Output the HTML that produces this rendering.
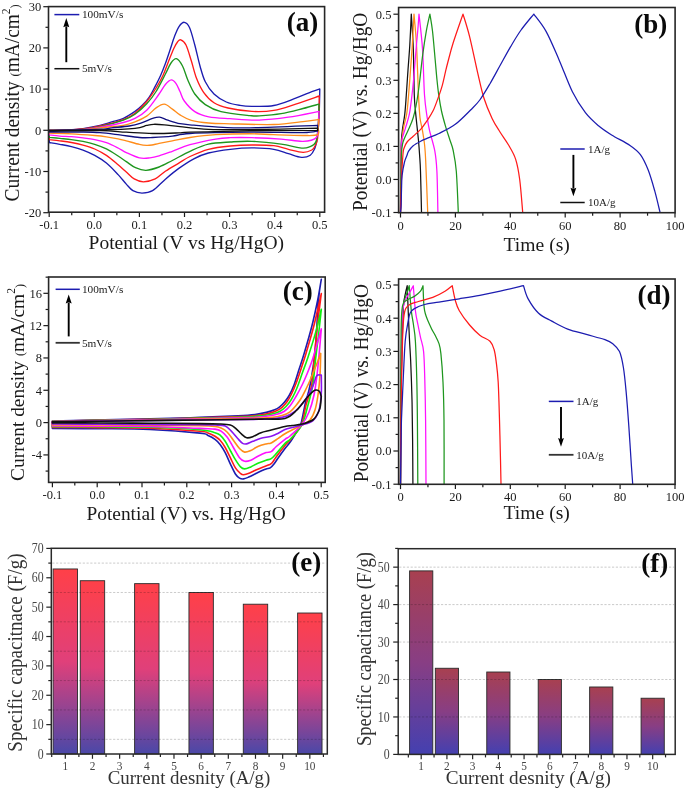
<!DOCTYPE html>
<html><head><meta charset="utf-8"><title>figure</title>
<style>
html,body{margin:0;padding:0;background:#fff;}
svg{display:block;}
text{font-family:"Liberation Serif", serif;}
</style></head>
<body>
<svg width="685" height="791" viewBox="0 0 685 791">
<rect x="0" y="0" width="685" height="791" fill="#fff"/>
<line x1="49.2" y1="212.2" x2="49.2" y2="217" stroke="#1a1a1a" stroke-width="1.2" />
<text x="49.2" y="228.8" font-size="12.5" text-anchor="middle" fill="#1a1a1a" font-weight="normal" >-0.1</text>
<line x1="71.75" y1="212.2" x2="71.75" y2="215.2" stroke="#1a1a1a" stroke-width="1.2" />
<line x1="94.3" y1="212.2" x2="94.3" y2="217" stroke="#1a1a1a" stroke-width="1.2" />
<text x="94.3" y="228.8" font-size="12.5" text-anchor="middle" fill="#1a1a1a" font-weight="normal" >0.0</text>
<line x1="116.85" y1="212.2" x2="116.85" y2="215.2" stroke="#1a1a1a" stroke-width="1.2" />
<line x1="139.4" y1="212.2" x2="139.4" y2="217" stroke="#1a1a1a" stroke-width="1.2" />
<text x="139.4" y="228.8" font-size="12.5" text-anchor="middle" fill="#1a1a1a" font-weight="normal" >0.1</text>
<line x1="161.95" y1="212.2" x2="161.95" y2="215.2" stroke="#1a1a1a" stroke-width="1.2" />
<line x1="184.5" y1="212.2" x2="184.5" y2="217" stroke="#1a1a1a" stroke-width="1.2" />
<text x="184.5" y="228.8" font-size="12.5" text-anchor="middle" fill="#1a1a1a" font-weight="normal" >0.2</text>
<line x1="207.05" y1="212.2" x2="207.05" y2="215.2" stroke="#1a1a1a" stroke-width="1.2" />
<line x1="229.6" y1="212.2" x2="229.6" y2="217" stroke="#1a1a1a" stroke-width="1.2" />
<text x="229.6" y="228.8" font-size="12.5" text-anchor="middle" fill="#1a1a1a" font-weight="normal" >0.3</text>
<line x1="252.15" y1="212.2" x2="252.15" y2="215.2" stroke="#1a1a1a" stroke-width="1.2" />
<line x1="274.7" y1="212.2" x2="274.7" y2="217" stroke="#1a1a1a" stroke-width="1.2" />
<text x="274.7" y="228.8" font-size="12.5" text-anchor="middle" fill="#1a1a1a" font-weight="normal" >0.4</text>
<line x1="297.25" y1="212.2" x2="297.25" y2="215.2" stroke="#1a1a1a" stroke-width="1.2" />
<line x1="319.8" y1="212.2" x2="319.8" y2="217" stroke="#1a1a1a" stroke-width="1.2" />
<text x="319.8" y="228.8" font-size="12.5" text-anchor="middle" fill="#1a1a1a" font-weight="normal" >0.5</text>
<line x1="48.5" y1="212.7" x2="43.3" y2="212.7" stroke="#1a1a1a" stroke-width="1.2" />
<text x="41.2" y="217" font-size="12.5" text-anchor="end" fill="#1a1a1a" font-weight="normal" >-20</text>
<line x1="48.5" y1="192.1" x2="45.5" y2="192.1" stroke="#1a1a1a" stroke-width="1.2" />
<line x1="48.5" y1="171.5" x2="43.3" y2="171.5" stroke="#1a1a1a" stroke-width="1.2" />
<text x="41.2" y="175.8" font-size="12.5" text-anchor="end" fill="#1a1a1a" font-weight="normal" >-10</text>
<line x1="48.5" y1="150.9" x2="45.5" y2="150.9" stroke="#1a1a1a" stroke-width="1.2" />
<line x1="48.5" y1="130.3" x2="43.3" y2="130.3" stroke="#1a1a1a" stroke-width="1.2" />
<text x="41.2" y="134.6" font-size="12.5" text-anchor="end" fill="#1a1a1a" font-weight="normal" >0</text>
<line x1="48.5" y1="109.7" x2="45.5" y2="109.7" stroke="#1a1a1a" stroke-width="1.2" />
<line x1="48.5" y1="89.1" x2="43.3" y2="89.1" stroke="#1a1a1a" stroke-width="1.2" />
<text x="41.2" y="93.4" font-size="12.5" text-anchor="end" fill="#1a1a1a" font-weight="normal" >10</text>
<line x1="48.5" y1="68.5" x2="45.5" y2="68.5" stroke="#1a1a1a" stroke-width="1.2" />
<line x1="48.5" y1="47.9" x2="43.3" y2="47.9" stroke="#1a1a1a" stroke-width="1.2" />
<text x="41.2" y="52.2" font-size="12.5" text-anchor="end" fill="#1a1a1a" font-weight="normal" >20</text>
<line x1="48.5" y1="27.3" x2="45.5" y2="27.3" stroke="#1a1a1a" stroke-width="1.2" />
<line x1="48.5" y1="6.7" x2="43.3" y2="6.7" stroke="#1a1a1a" stroke-width="1.2" />
<text x="41.2" y="11" font-size="12.5" text-anchor="end" fill="#1a1a1a" font-weight="normal" >30</text>
<text x="186.3" y="249.2" font-size="19.55" text-anchor="middle" fill="#1a1a1a" font-weight="normal" >Potential (V vs Hg/HgO)</text>
<text transform="translate(19,102.8) rotate(-90) scale(1,1.07)" x="0" y="0" font-size="19.4" text-anchor="middle" fill="#1a1a1a" >Current density <tspan font-size="12.5">(</tspan>mA/cm<tspan dy="-8.5" font-size="11.5">2</tspan><tspan dy="8.5" font-size="12.5">)</tspan></text>
<text x="302.4" y="30.75" font-size="27" text-anchor="middle" fill="#0a0a0a" font-weight="bold" >(a)</text>
<line x1="54.4" y1="14.6" x2="79.3" y2="14.6" stroke="#1c1cb0" stroke-width="1.5" />
<text x="81.9" y="18.4" font-size="11.3" text-anchor="start" fill="#222" font-weight="normal" >100mV/s</text>
<line x1="54.4" y1="68.7" x2="79.3" y2="68.7" stroke="#111111" stroke-width="1.5" />
<text x="81.9" y="72.4" font-size="11.3" text-anchor="start" fill="#222" font-weight="normal" >5mV/s</text>
<line x1="66.3" y1="62.2" x2="66.3" y2="26.3" stroke="#000" stroke-width="1.9" />
<path d="M66.3,18.1 L63.3,27.3 L66.3,26.01 L69.3,27.3 Z" fill="#000"/>
<path d="M49.3,130.5 C52,130.42 59.88,130.32 65.5,130 C71.12,129.68 77.25,129.37 83,128.6 C88.75,127.83 95.22,126.52 100,125.4 C104.78,124.28 107.8,123.07 111.7,121.9 C115.6,120.73 119.52,120.15 123.4,118.4 C127.28,116.65 131.9,113.53 135,111.4 C138.1,109.27 139.65,107.93 142,105.6 C144.35,103.27 146.95,100.52 149.1,97.4 C151.25,94.28 152.97,90.6 154.9,86.9 C156.83,83.2 158.95,79.1 160.7,75.2 C162.45,71.3 163.85,67.7 165.4,63.5 C166.95,59.3 168.48,54.5 170,50 C171.52,45.5 173,40.4 174.5,36.5 C176,32.6 177.37,28.97 179,26.6 C180.63,24.23 182.55,22.15 184.3,22.3 C186.05,22.45 187.75,23.72 189.5,27.5 C191.25,31.28 193.05,38.58 194.8,45 C196.55,51.42 198.25,59.87 200,66 C201.75,72.13 202.97,77.13 205.3,81.8 C207.63,86.47 210.5,90.63 214,94 C217.5,97.37 221.97,100.1 226.3,102 C230.63,103.9 235.73,104.68 240,105.4 C244.27,106.12 246.27,106.28 251.9,106.3 C257.53,106.32 266.5,106.85 273.8,105.5 C281.1,104.15 289.37,100.5 295.7,98.2 C302.03,95.9 307.78,93.23 311.8,91.7 C315.82,90.17 318.47,89.45 319.8,89 L319.8,89 C319.72,92.5 319.55,103.47 319.3,110 C319.05,116.53 318.77,122.87 318.3,128.2 C317.83,133.53 317.1,138.6 316.5,142 C315.9,145.4 315.73,146.4 314.7,148.6 C313.67,150.8 312.5,153.73 310.3,155.2 C308.1,156.67 305.15,157.65 301.5,157.4 C297.85,157.15 293.02,155.05 288.4,153.7 C283.78,152.35 279.88,150.27 273.8,149.3 C267.72,148.33 259.15,147.9 251.9,147.9 C244.65,147.9 237.55,148.45 230.3,149.3 C223.05,150.15 214.48,151.42 208.4,153 C202.32,154.58 198.73,156.23 193.8,158.8 C188.87,161.37 183.48,165.05 178.8,168.4 C174.12,171.75 170.07,175.18 165.7,178.9 C161.33,182.62 156.55,188.33 152.6,190.7 C148.65,193.07 145.28,193.1 142,193.1 C138.72,193.1 135.52,192.2 132.9,190.7 C130.28,189.2 128.77,186.78 126.3,184.1 C123.83,181.42 121.42,178.12 118.1,174.6 C114.78,171.08 110.3,166.2 106.4,163 C102.5,159.8 98.6,157.55 94.7,155.4 C90.8,153.25 86.88,151.57 83,150.1 C79.12,148.63 75.28,147.57 71.4,146.6 C67.52,145.63 63.38,144.98 59.7,144.3 C56.02,143.62 51.03,142.8 49.3,142.5 Z" stroke="#1c1cb0" stroke-width="1.35" fill="none" stroke-linejoin="round" stroke-linecap="round" />
<path d="M49.3,130.5 C52,130.45 59.88,130.45 65.5,130.2 C71.12,129.95 77.25,129.7 83,129 C88.75,128.3 93.27,127.57 100,126 C106.73,124.43 117.57,121.73 123.4,119.6 C129.23,117.47 131.12,116.22 135,113.2 C138.88,110.18 143.18,105.7 146.7,101.5 C150.22,97.3 153.37,92.38 156.1,88 C158.83,83.62 161.07,79.53 163.1,75.2 C165.13,70.87 166.52,66.45 168.3,62 C170.08,57.55 172.27,51.83 173.8,48.5 C175.33,45.17 176.33,43.45 177.5,42 C178.67,40.55 179.38,39.3 180.8,39.8 C182.22,40.3 184.25,41.5 186,45 C187.75,48.5 189.55,55.25 191.3,60.8 C193.05,66.35 194.45,73.05 196.5,78.3 C198.55,83.55 200.68,88.22 203.6,92.3 C206.52,96.38 209.93,100.18 214,102.8 C218.07,105.42 221.68,106.57 228,108 C234.32,109.43 244.27,111 251.9,111.4 C259.53,111.8 266.5,111.62 273.8,110.4 C281.1,109.18 288.12,106.5 295.7,104.1 C303.28,101.7 315.37,97.35 319.3,96 L319.3,96 C319.22,99.17 319.08,107.93 318.8,115 C318.52,122.07 318.23,133.23 317.6,138.4 C316.97,143.57 315.97,144.07 315,146 C314.03,147.93 313.8,148.95 311.8,150 C309.8,151.05 306.9,152.42 303,152.3 C299.1,152.18 293.27,150.4 288.4,149.3 C283.53,148.2 279.88,146.42 273.8,145.7 C267.72,144.98 259.15,144.95 251.9,145 C244.65,145.05 237.55,145.28 230.3,146 C223.05,146.72 215.12,147.55 208.4,149.3 C201.68,151.05 194.93,154.2 190,156.5 C185.07,158.8 182.85,160.68 178.8,163.1 C174.75,165.52 169.63,168.37 165.7,171 C161.77,173.63 158.92,177.1 155.2,178.9 C151.48,180.7 146.9,181.8 143.4,181.8 C139.9,181.8 137.05,180.53 134.2,178.9 C131.35,177.27 128.98,174.35 126.3,172 C123.62,169.65 121.42,167.57 118.1,164.8 C114.78,162.03 110.3,158.03 106.4,155.4 C102.5,152.77 98.6,150.72 94.7,149 C90.8,147.28 86.88,146.18 83,145.1 C79.12,144.02 75.28,143.22 71.4,142.5 C67.52,141.78 63.38,141.28 59.7,140.8 C56.02,140.32 51.03,139.8 49.3,139.6 Z" stroke="#ff1a1a" stroke-width="1.35" fill="none" stroke-linejoin="round" stroke-linecap="round" />
<path d="M49.3,130.5 C52,130.47 59.88,130.5 65.5,130.3 C71.12,130.1 77.25,129.92 83,129.3 C88.75,128.68 93.27,128.12 100,126.6 C106.73,125.08 117.57,122.25 123.4,120.2 C129.23,118.15 131.12,117.03 135,114.3 C138.88,111.57 143.18,107.6 146.7,103.8 C150.22,100 152.98,96.47 156.1,91.5 C159.22,86.53 162.92,78.75 165.4,74 C167.88,69.25 169.17,65.55 171,63 C172.83,60.45 174.48,58.2 176.4,58.7 C178.32,59.2 180.6,62.45 182.5,66 C184.4,69.55 185.75,75.33 187.8,80 C189.85,84.67 191.88,89.9 194.8,94 C197.72,98.1 200.93,101.67 205.3,104.6 C209.67,107.53 213.55,109.77 221,111.6 C228.45,113.43 243.63,114.9 250,115.6 C256.37,116.3 254.02,116.13 259.2,115.8 C264.38,115.47 273.8,114.82 281.1,113.6 C288.4,112.38 296.68,110.08 303,108.5 C309.32,106.92 316.33,104.83 319,104.1 L319,104.1 C318.92,106.75 318.98,113.8 318.5,120 C318.02,126.2 317.72,136.77 316.1,141.3 C314.48,145.83 311.48,146.1 308.8,147.2 C306.12,148.3 304.62,148.4 300,147.9 C295.38,147.4 289.12,145.3 281.1,144.2 C273.08,143.1 260.37,141.67 251.9,141.3 C243.43,140.93 237.55,141.52 230.3,142 C223.05,142.48 215.12,142.65 208.4,144.2 C201.68,145.75 196.02,148.58 190,151.3 C183.98,154.02 177.45,157.88 172.3,160.5 C167.15,163.12 163.48,165.37 159.1,167 C154.72,168.63 149.93,170.18 146,170.3 C142.07,170.42 138.78,169.15 135.5,167.7 C132.22,166.25 129.2,163.55 126.3,161.6 C123.4,159.65 121.42,158.12 118.1,156 C114.78,153.88 110.3,150.85 106.4,148.9 C102.5,146.95 98.6,145.55 94.7,144.3 C90.8,143.05 86.88,142.18 83,141.4 C79.12,140.62 75.28,140.1 71.4,139.6 C67.52,139.1 63.38,138.78 59.7,138.4 C56.02,138.02 51.03,137.48 49.3,137.3 Z" stroke="#1e961e" stroke-width="1.35" fill="none" stroke-linejoin="round" stroke-linecap="round" />
<path d="M49.3,130.5 C52,130.48 59.88,130.55 65.5,130.4 C71.12,130.25 77.25,130.13 83,129.6 C88.75,129.07 93.27,128.38 100,127.2 C106.73,126.02 117.57,123.97 123.4,122.5 C129.23,121.03 131.12,120.45 135,118.4 C138.88,116.35 142.8,114.1 146.7,110.2 C150.6,106.3 155.28,99.28 158.4,95 C161.52,90.72 163.25,87.02 165.4,84.5 C167.55,81.98 169.55,80.08 171.3,79.9 C173.05,79.72 174.45,81.47 175.9,83.4 C177.35,85.33 178.6,88.57 180,91.5 C181.4,94.43 181.83,97.65 184.3,101 C186.77,104.35 190.72,108.97 194.8,111.6 C198.88,114.23 202.93,115.62 208.8,116.8 C214.67,117.98 221.6,118.15 230,118.7 C238.4,119.25 249.47,120.35 259.2,120.1 C268.93,119.85 278.43,118.65 288.4,117.2 C298.37,115.75 313.9,112.37 319,111.4 L319,111.4 C318.88,113.67 318.78,120.62 318.3,125 C317.82,129.38 318.65,134.98 316.1,137.7 C313.55,140.42 308.83,141.07 303,141.3 C297.17,141.53 289.62,139.7 281.1,139.1 C272.58,138.5 260.42,137.93 251.9,137.7 C243.38,137.47 236.03,137.47 230,137.7 C223.97,137.93 222.37,137.93 215.7,139.1 C209.03,140.27 197.23,142.67 190,144.7 C182.77,146.73 177.45,149.43 172.3,151.3 C167.15,153.17 162.83,154.8 159.1,155.9 C155.37,157 153.18,157.57 149.9,157.9 C146.62,158.23 143.33,158.78 139.4,157.9 C135.47,157.02 129.85,154.25 126.3,152.6 C122.75,150.95 121.42,149.65 118.1,148 C114.78,146.35 110.3,144.1 106.4,142.7 C102.5,141.3 98.6,140.4 94.7,139.6 C90.8,138.8 86.88,138.38 83,137.9 C79.12,137.42 75.28,137 71.4,136.7 C67.52,136.4 63.38,136.4 59.7,136.1 C56.02,135.8 51.03,135.1 49.3,134.9 Z" stroke="#ff10ff" stroke-width="1.35" fill="none" stroke-linejoin="round" stroke-linecap="round" />
<path d="M49.3,130.5 C54.92,130.4 74.55,130.35 83,129.9 C91.45,129.45 93.27,128.55 100,127.8 C106.73,127.05 117.57,126.38 123.4,125.4 C129.23,124.42 131.12,123.45 135,121.9 C138.88,120.35 143.18,118.43 146.7,116.1 C150.22,113.77 153.17,109.88 156.1,107.9 C159.03,105.92 161.58,104 164.3,104.2 C167.02,104.4 169.78,107.32 172.4,109.1 C175.02,110.88 176.85,113.03 180,114.9 C183.15,116.77 186.5,118.95 191.3,120.3 C196.1,121.65 202.35,122.42 208.8,123 C215.25,123.58 219.17,123.55 230,123.8 C240.83,124.05 261.63,124.87 273.8,124.5 C285.97,124.13 295.47,122.45 303,121.6 C310.53,120.75 316.33,119.77 319,119.4 L319,119.4 C318.88,120.83 318.53,125.45 318.3,128 C318.07,130.55 320.15,133.45 317.6,134.7 C315.05,135.95 310.3,135.5 303,135.5 C295.7,135.5 282.63,135 273.8,134.7 C264.97,134.4 259.68,133.7 250,133.7 C240.32,133.7 225.7,134.07 215.7,134.7 C205.7,135.33 197.23,136.48 190,137.5 C182.77,138.52 177.45,139.82 172.3,140.8 C167.15,141.78 162.48,142.7 159.1,143.4 C155.72,144.1 154.08,144.67 152,145 C149.92,145.33 148.7,145.5 146.6,145.4 C144.5,145.3 142.78,145.17 139.4,144.4 C136.02,143.63 129.85,141.73 126.3,140.8 C122.75,139.87 121.42,139.47 118.1,138.8 C114.78,138.13 110.3,137.35 106.4,136.8 C102.5,136.25 100.53,136 94.7,135.5 C88.87,135 78.97,134.18 71.4,133.8 C63.83,133.42 52.98,133.3 49.3,133.2 Z" stroke="#ff8c1a" stroke-width="1.35" fill="none" stroke-linejoin="round" stroke-linecap="round" />
<path d="M49.3,130.5 C57.83,130.28 90.1,129.65 100.5,129.2 C110.9,128.75 106.92,128.33 111.7,127.8 C116.48,127.27 124.33,126.78 129.2,126 C134.07,125.22 137,124.37 140.9,123.1 C144.8,121.83 149.48,119.38 152.6,118.4 C155.72,117.42 157.07,116.9 159.6,117.2 C162.13,117.5 164.4,119.12 167.8,120.2 C171.2,121.28 175.67,122.87 180,123.7 C184.33,124.53 186.63,124.58 193.8,125.2 C200.97,125.82 213.63,126.97 223,127.4 C232.37,127.83 234.23,128.15 250,127.8 C265.77,127.45 306.33,125.72 317.6,125.3 L317.6,131 C315.17,131.27 314.27,132.4 303,132.6 C291.73,132.8 268.83,132.05 250,132.2 C231.17,132.35 202.95,132.83 190,133.5 C177.05,134.17 178.53,135.53 172.3,136.2 C166.07,136.87 158.08,137.28 152.6,137.5 C147.12,137.72 144.88,137.93 139.4,137.5 C133.92,137.07 126.27,135.72 119.7,134.9 C113.13,134.08 106.12,133.08 100,132.6 C93.88,132.12 91.45,132.1 83,132 C74.55,131.9 54.92,132 49.3,132 Z" stroke="#101080" stroke-width="1.35" fill="none" stroke-linejoin="round" stroke-linecap="round" />
<path d="M49.3,130.5 C57.83,130.42 86.22,130.37 100.5,130 C114.78,129.63 127.3,129.07 135,128.3 C142.7,127.53 143.58,126.07 146.7,125.4 C149.82,124.73 150.77,124.4 153.7,124.3 C156.63,124.2 159.92,124.42 164.3,124.8 C168.68,125.18 172.65,125.85 180,126.6 C187.35,127.35 196.73,128.8 208.4,129.3 C220.07,129.8 231.8,129.78 250,129.6 C268.2,129.42 306.33,128.43 317.6,128.2 L317.6,130.4 C306.33,130.47 271.27,130.5 250,130.8 C228.73,131.1 201.87,131.85 190,132.2 C178.13,132.55 185.03,132.68 178.8,132.9 C172.57,133.12 161.35,133.62 152.6,133.5 C143.85,133.38 135.07,132.68 126.3,132.2 C117.53,131.72 112.83,130.83 100,130.6 C87.17,130.37 57.75,130.77 49.3,130.8 Z" stroke="#111111" stroke-width="1.35" fill="none" stroke-linejoin="round" stroke-linecap="round" />
<rect x="48.5" y="6.6" width="276.1" height="205.6" fill="none" stroke="#262626" stroke-width="1.6"/>
<line x1="400.5" y1="212.7" x2="400.5" y2="217.5" stroke="#1a1a1a" stroke-width="1.2" />
<text x="400.5" y="229.6" font-size="12.5" text-anchor="middle" fill="#1a1a1a" font-weight="normal" >0</text>
<line x1="427.95" y1="212.7" x2="427.95" y2="215.7" stroke="#1a1a1a" stroke-width="1.2" />
<line x1="455.4" y1="212.7" x2="455.4" y2="217.5" stroke="#1a1a1a" stroke-width="1.2" />
<text x="455.4" y="229.6" font-size="12.5" text-anchor="middle" fill="#1a1a1a" font-weight="normal" >20</text>
<line x1="482.85" y1="212.7" x2="482.85" y2="215.7" stroke="#1a1a1a" stroke-width="1.2" />
<line x1="510.3" y1="212.7" x2="510.3" y2="217.5" stroke="#1a1a1a" stroke-width="1.2" />
<text x="510.3" y="229.6" font-size="12.5" text-anchor="middle" fill="#1a1a1a" font-weight="normal" >40</text>
<line x1="537.75" y1="212.7" x2="537.75" y2="215.7" stroke="#1a1a1a" stroke-width="1.2" />
<line x1="565.2" y1="212.7" x2="565.2" y2="217.5" stroke="#1a1a1a" stroke-width="1.2" />
<text x="565.2" y="229.6" font-size="12.5" text-anchor="middle" fill="#1a1a1a" font-weight="normal" >60</text>
<line x1="592.65" y1="212.7" x2="592.65" y2="215.7" stroke="#1a1a1a" stroke-width="1.2" />
<line x1="620.1" y1="212.7" x2="620.1" y2="217.5" stroke="#1a1a1a" stroke-width="1.2" />
<text x="620.1" y="229.6" font-size="12.5" text-anchor="middle" fill="#1a1a1a" font-weight="normal" >80</text>
<line x1="647.55" y1="212.7" x2="647.55" y2="215.7" stroke="#1a1a1a" stroke-width="1.2" />
<line x1="675" y1="212.7" x2="675" y2="217.5" stroke="#1a1a1a" stroke-width="1.2" />
<text x="675" y="229.6" font-size="12.5" text-anchor="middle" fill="#1a1a1a" font-weight="normal" >100</text>
<line x1="398.6" y1="212.5" x2="393.4" y2="212.5" stroke="#1a1a1a" stroke-width="1.2" />
<text x="391.4" y="216.8" font-size="12.5" text-anchor="end" fill="#1a1a1a" font-weight="normal" >-0.1</text>
<line x1="398.6" y1="195.97" x2="395.6" y2="195.97" stroke="#1a1a1a" stroke-width="1.2" />
<line x1="398.6" y1="179.45" x2="393.4" y2="179.45" stroke="#1a1a1a" stroke-width="1.2" />
<text x="391.4" y="183.75" font-size="12.5" text-anchor="end" fill="#1a1a1a" font-weight="normal" >0.0</text>
<line x1="398.6" y1="162.92" x2="395.6" y2="162.92" stroke="#1a1a1a" stroke-width="1.2" />
<line x1="398.6" y1="146.4" x2="393.4" y2="146.4" stroke="#1a1a1a" stroke-width="1.2" />
<text x="391.4" y="150.7" font-size="12.5" text-anchor="end" fill="#1a1a1a" font-weight="normal" >0.1</text>
<line x1="398.6" y1="129.88" x2="395.6" y2="129.88" stroke="#1a1a1a" stroke-width="1.2" />
<line x1="398.6" y1="113.35" x2="393.4" y2="113.35" stroke="#1a1a1a" stroke-width="1.2" />
<text x="391.4" y="117.65" font-size="12.5" text-anchor="end" fill="#1a1a1a" font-weight="normal" >0.2</text>
<line x1="398.6" y1="96.83" x2="395.6" y2="96.83" stroke="#1a1a1a" stroke-width="1.2" />
<line x1="398.6" y1="80.3" x2="393.4" y2="80.3" stroke="#1a1a1a" stroke-width="1.2" />
<text x="391.4" y="84.6" font-size="12.5" text-anchor="end" fill="#1a1a1a" font-weight="normal" >0.3</text>
<line x1="398.6" y1="63.77" x2="395.6" y2="63.77" stroke="#1a1a1a" stroke-width="1.2" />
<line x1="398.6" y1="47.25" x2="393.4" y2="47.25" stroke="#1a1a1a" stroke-width="1.2" />
<text x="391.4" y="51.55" font-size="12.5" text-anchor="end" fill="#1a1a1a" font-weight="normal" >0.4</text>
<line x1="398.6" y1="30.72" x2="395.6" y2="30.72" stroke="#1a1a1a" stroke-width="1.2" />
<line x1="398.6" y1="14.2" x2="393.4" y2="14.2" stroke="#1a1a1a" stroke-width="1.2" />
<text x="391.4" y="18.5" font-size="12.5" text-anchor="end" fill="#1a1a1a" font-weight="normal" >0.5</text>
<text x="536.7" y="250.7" font-size="19.6" text-anchor="middle" fill="#1a1a1a" font-weight="normal" >Time (s)</text>
<text transform="translate(367.4,111.8) rotate(-90) scale(1,1.07)" x="0" y="0" font-size="19.3" text-anchor="middle" fill="#1a1a1a" >Potential (V) vs. Hg/HgO</text>
<text x="650.7" y="33.45" font-size="27" text-anchor="middle" fill="#0a0a0a" font-weight="bold" >(b)</text>
<line x1="560.3" y1="149" x2="584.7" y2="149" stroke="#1c1cb0" stroke-width="1.5" />
<text x="588" y="152.6" font-size="11.0" text-anchor="start" fill="#222" font-weight="normal" >1A/g</text>
<line x1="560.3" y1="202.5" x2="584.7" y2="202.5" stroke="#111111" stroke-width="1.5" />
<text x="588" y="206.2" font-size="11.0" text-anchor="start" fill="#222" font-weight="normal" >10A/g</text>
<line x1="573.4" y1="154.9" x2="573.4" y2="188.7" stroke="#000" stroke-width="1.9" />
<path d="M573.4,196.3 L570.5,187.7 L573.4,188.9 L576.3,187.7 Z" fill="#000"/>
<path d="M400.5,212.2 C400.55,205.17 400.72,179.53 400.8,170 C400.88,160.47 400.9,159.92 401,155 C401.1,150.08 401.15,144.82 401.4,140.5 C401.65,136.18 401.93,133.53 402.5,129.1 C403.07,124.67 404.17,119.58 404.8,113.9 C405.43,108.22 405.77,102.32 406.3,95 C406.83,87.68 407.42,78.33 408,70 C408.58,61.67 409.25,54.32 409.8,45 C410.35,35.68 411.05,19.25 411.3,14.1 L411.3,14.1 C411.63,19.9 412.8,35.42 413.3,48.9 C413.8,62.38 413.95,84.78 414.3,95 C414.65,105.22 414.97,105.15 415.4,110.2 C415.83,115.25 416.38,120.25 416.9,125.3 C417.42,130.35 418.05,135.55 418.5,140.5 C418.95,145.45 419.27,149.87 419.6,155 C419.93,160.13 420.18,161.77 420.5,171.3 C420.82,180.83 421.33,205.38 421.5,212.2" stroke="#111111" stroke-width="1.25" fill="none" stroke-linejoin="round" stroke-linecap="round" />
<path d="M400.5,212.2 C400.55,205.17 400.68,180.37 400.8,170 C400.92,159.63 400.78,156.82 401.2,150 C401.62,143.18 402.38,135.12 403.3,129.1 C404.22,123.08 405.82,119.58 406.7,113.9 C407.58,108.22 407.97,102.32 408.6,95 C409.23,87.68 409.88,78.33 410.5,70 C411.12,61.67 411.72,54.32 412.3,45 C412.88,35.68 413.72,19.25 414,14.1 L414,14.1 C414.42,19.25 415.75,31.52 416.5,45 C417.25,58.48 417.92,82.88 418.5,95 C419.08,107.12 419.38,112.02 420,117.7 C420.62,123.38 421.45,124.68 422.2,129.1 C422.95,133.52 423.92,138.88 424.5,144.2 C425.08,149.52 425.17,149.67 425.7,161 C426.23,172.33 427.37,203.67 427.7,212.2" stroke="#ff8c1a" stroke-width="1.25" fill="none" stroke-linejoin="round" stroke-linecap="round" />
<path d="M400.5,212.2 C400.55,207.67 400.7,193.7 400.8,185 C400.9,176.3 401,166.8 401.1,160 C401.2,153.2 401.17,147.97 401.4,144.2 C401.63,140.43 401.8,140.17 402.5,137.4 C403.2,134.63 404.45,131.52 405.6,127.6 C406.75,123.68 408.33,119.33 409.4,113.9 C410.47,108.47 411.23,101.48 412,95 C412.77,88.52 413.33,82.5 414,75 C414.67,67.5 415.37,57.5 416,50 C416.63,42.5 417.3,35.98 417.8,30 C418.3,24.02 418.8,16.75 419,14.1 L419,14.1 C419.58,19.9 421.58,35.42 422.5,48.9 C423.42,62.38 423.72,83.53 424.5,95 C425.28,106.47 426.37,111.8 427.2,117.7 C428.03,123.6 428.23,124.87 429.5,130.4 C430.77,135.93 433.57,144.08 434.8,150.9 C436.03,157.72 436.38,161.08 436.9,171.3 C437.42,181.52 437.73,205.38 437.9,212.2" stroke="#ff10ff" stroke-width="1.25" fill="none" stroke-linejoin="round" stroke-linecap="round" />
<path d="M400.5,212.2 C400.53,207.67 400.55,194.53 400.7,185 C400.85,175.47 401.1,161.8 401.4,155 C401.7,148.2 401.93,147.13 402.5,144.2 C403.07,141.27 403.65,140.17 404.8,137.4 C405.95,134.63 408,130.88 409.4,127.6 C410.8,124.32 412.1,121.3 413.2,117.7 C414.3,114.1 415.2,109.95 416,106 C416.8,102.05 417.37,98.33 418,94 C418.63,89.67 419,86.63 419.8,80 C420.6,73.37 421.72,62.33 422.8,54.2 C423.88,46.07 425.12,37.88 426.3,31.2 C427.48,24.52 429.3,16.95 429.9,14.1 L429.9,14.1 C430.33,16.92 431.62,23.35 432.5,31 C433.38,38.65 434.45,51.83 435.2,60 C435.95,68.17 436.4,74.1 437,80 C437.6,85.9 438.05,90.23 438.8,95.4 C439.55,100.57 440.4,105.93 441.5,111 C442.6,116.07 444,120.97 445.4,125.8 C446.8,130.63 448.6,135.88 449.9,140 C451.2,144.12 452.13,145.28 453.2,150.5 C454.27,155.72 455.45,161.02 456.3,171.3 C457.15,181.58 457.97,205.38 458.3,212.2" stroke="#1e961e" stroke-width="1.25" fill="none" stroke-linejoin="round" stroke-linecap="round" />
<path d="M400.5,212.2 C400.62,207.67 400.8,194.53 401.2,185 C401.6,175.47 402.42,161.17 402.9,155 C403.38,148.83 403.4,150.17 404.1,148 C404.8,145.83 405.58,143.97 407.1,142 C408.62,140.03 410.87,138.4 413.2,136.2 C415.53,134 418.78,131.38 421.1,128.8 C423.42,126.22 425.08,123.73 427.1,120.7 C429.12,117.67 431.33,114.48 433.2,110.6 C435.07,106.72 436.78,101.62 438.3,97.4 C439.82,93.18 441.12,89.52 442.3,85.3 C443.48,81.08 444.47,75.98 445.4,72.1 C446.33,68.22 446.6,66.88 447.9,62 C449.2,57.12 450.68,50.78 453.2,42.8 C455.72,34.82 461.37,18.88 463,14.1 L463,14.1 C464.1,17.85 467.13,26.72 469.6,36.6 C472.07,46.48 475.42,63.17 477.8,73.4 C480.18,83.63 481.52,90.5 483.9,98 C486.28,105.5 489.42,112.73 492.1,118.4 C494.78,124.07 497.28,127.6 500,132 C502.72,136.4 505.8,140.28 508.4,144.8 C511,149.32 513.72,153.32 515.6,159.1 C517.48,164.88 518.52,170.65 519.7,179.5 C520.88,188.35 522.2,206.75 522.7,212.2" stroke="#ff1a1a" stroke-width="1.25" fill="none" stroke-linejoin="round" stroke-linecap="round" />
<path d="M400.5,212.2 C400.6,211.18 400.93,209.8 401.1,206.1 C401.27,202.4 401.33,195.12 401.5,190 C401.67,184.88 401.6,180.07 402.1,175.4 C402.6,170.73 403.67,165.4 404.5,162 C405.33,158.6 406.42,156.82 407.1,155 C407.78,153.18 407.58,152.63 408.6,151.1 C409.62,149.57 411.18,147.45 413.2,145.8 C415.22,144.15 418.32,142.47 420.7,141.2 C423.08,139.93 424.47,139.48 427.5,138.2 C430.53,136.92 434.27,135.82 438.9,133.5 C443.53,131.18 450.02,128.22 455.3,124.3 C460.58,120.38 466.52,114.05 470.6,110 C474.68,105.95 476.57,104.38 479.8,100 C483.03,95.62 486.6,89.48 490,83.7 C493.4,77.92 496.78,71.43 500.2,65.3 C503.62,59.17 507.08,52.7 510.5,46.9 C513.92,41.1 516.82,35.97 520.7,30.5 C524.58,25.03 531.62,16.83 533.8,14.1 L533.8,14.1 C535.87,17.02 541.95,23.88 546.2,31.6 C550.45,39.32 554.93,50.37 559.3,60.4 C563.67,70.43 568.05,83.08 572.4,91.8 C576.75,100.52 581.05,107.03 585.4,112.7 C589.75,118.37 594.13,122.08 598.5,125.8 C602.87,129.52 606.35,131.73 611.6,135 C616.85,138.27 625.2,142.13 630,145.4 C634.8,148.67 637.35,150.45 640.4,154.6 C643.45,158.75 645.9,164.2 648.3,170.3 C650.7,176.4 652.85,184.22 654.8,191.2 C656.75,198.18 659.13,208.7 660,212.2" stroke="#1c1cb0" stroke-width="1.25" fill="none" stroke-linejoin="round" stroke-linecap="round" />
<rect x="398.6" y="7.5" width="276.5" height="205.2" fill="none" stroke="#262626" stroke-width="1.6"/>
<line x1="52.4" y1="482.4" x2="52.4" y2="487.2" stroke="#1a1a1a" stroke-width="1.2" />
<text x="52.4" y="499" font-size="12.5" text-anchor="middle" fill="#1a1a1a" font-weight="normal" >-0.1</text>
<line x1="74.8" y1="482.4" x2="74.8" y2="485.4" stroke="#1a1a1a" stroke-width="1.2" />
<line x1="97.2" y1="482.4" x2="97.2" y2="487.2" stroke="#1a1a1a" stroke-width="1.2" />
<text x="97.2" y="499" font-size="12.5" text-anchor="middle" fill="#1a1a1a" font-weight="normal" >0.0</text>
<line x1="119.6" y1="482.4" x2="119.6" y2="485.4" stroke="#1a1a1a" stroke-width="1.2" />
<line x1="142" y1="482.4" x2="142" y2="487.2" stroke="#1a1a1a" stroke-width="1.2" />
<text x="142" y="499" font-size="12.5" text-anchor="middle" fill="#1a1a1a" font-weight="normal" >0.1</text>
<line x1="164.4" y1="482.4" x2="164.4" y2="485.4" stroke="#1a1a1a" stroke-width="1.2" />
<line x1="186.8" y1="482.4" x2="186.8" y2="487.2" stroke="#1a1a1a" stroke-width="1.2" />
<text x="186.8" y="499" font-size="12.5" text-anchor="middle" fill="#1a1a1a" font-weight="normal" >0.2</text>
<line x1="209.2" y1="482.4" x2="209.2" y2="485.4" stroke="#1a1a1a" stroke-width="1.2" />
<line x1="231.6" y1="482.4" x2="231.6" y2="487.2" stroke="#1a1a1a" stroke-width="1.2" />
<text x="231.6" y="499" font-size="12.5" text-anchor="middle" fill="#1a1a1a" font-weight="normal" >0.3</text>
<line x1="254" y1="482.4" x2="254" y2="485.4" stroke="#1a1a1a" stroke-width="1.2" />
<line x1="276.4" y1="482.4" x2="276.4" y2="487.2" stroke="#1a1a1a" stroke-width="1.2" />
<text x="276.4" y="499" font-size="12.5" text-anchor="middle" fill="#1a1a1a" font-weight="normal" >0.4</text>
<line x1="298.8" y1="482.4" x2="298.8" y2="485.4" stroke="#1a1a1a" stroke-width="1.2" />
<line x1="321.2" y1="482.4" x2="321.2" y2="487.2" stroke="#1a1a1a" stroke-width="1.2" />
<text x="321.2" y="499" font-size="12.5" text-anchor="middle" fill="#1a1a1a" font-weight="normal" >0.5</text>
<line x1="48.6" y1="471.08" x2="45.6" y2="471.08" stroke="#1a1a1a" stroke-width="1.2" />
<line x1="48.6" y1="454.92" x2="43.4" y2="454.92" stroke="#1a1a1a" stroke-width="1.2" />
<text x="42" y="459.22" font-size="12.5" text-anchor="end" fill="#1a1a1a" font-weight="normal" >-4</text>
<line x1="48.6" y1="438.76" x2="45.6" y2="438.76" stroke="#1a1a1a" stroke-width="1.2" />
<line x1="48.6" y1="422.6" x2="43.4" y2="422.6" stroke="#1a1a1a" stroke-width="1.2" />
<text x="42" y="426.9" font-size="12.5" text-anchor="end" fill="#1a1a1a" font-weight="normal" >0</text>
<line x1="48.6" y1="406.44" x2="45.6" y2="406.44" stroke="#1a1a1a" stroke-width="1.2" />
<line x1="48.6" y1="390.28" x2="43.4" y2="390.28" stroke="#1a1a1a" stroke-width="1.2" />
<text x="42" y="394.58" font-size="12.5" text-anchor="end" fill="#1a1a1a" font-weight="normal" >4</text>
<line x1="48.6" y1="374.12" x2="45.6" y2="374.12" stroke="#1a1a1a" stroke-width="1.2" />
<line x1="48.6" y1="357.96" x2="43.4" y2="357.96" stroke="#1a1a1a" stroke-width="1.2" />
<text x="42" y="362.26" font-size="12.5" text-anchor="end" fill="#1a1a1a" font-weight="normal" >8</text>
<line x1="48.6" y1="341.8" x2="45.6" y2="341.8" stroke="#1a1a1a" stroke-width="1.2" />
<line x1="48.6" y1="325.64" x2="43.4" y2="325.64" stroke="#1a1a1a" stroke-width="1.2" />
<text x="42" y="329.94" font-size="12.5" text-anchor="end" fill="#1a1a1a" font-weight="normal" >12</text>
<line x1="48.6" y1="309.48" x2="45.6" y2="309.48" stroke="#1a1a1a" stroke-width="1.2" />
<line x1="48.6" y1="293.32" x2="43.4" y2="293.32" stroke="#1a1a1a" stroke-width="1.2" />
<text x="42" y="297.62" font-size="12.5" text-anchor="end" fill="#1a1a1a" font-weight="normal" >16</text>
<line x1="48.6" y1="277.16" x2="45.6" y2="277.16" stroke="#1a1a1a" stroke-width="1.2" />
<text x="186.1" y="519.9" font-size="19.4" text-anchor="middle" fill="#1a1a1a" font-weight="normal" >Potential (V) vs. Hg/HgO</text>
<text transform="translate(23.8,382.5) rotate(-90) scale(1,1.0)" x="0" y="0" font-size="19.4" text-anchor="middle" fill="#1a1a1a" >Current density <tspan font-size="12">(</tspan>mA/cm<tspan dy="-8.5" font-size="11.5">2</tspan><tspan dy="8.5" font-size="12">)</tspan></text>
<text x="297.7" y="300.25" font-size="27" text-anchor="middle" fill="#0a0a0a" font-weight="bold" >(c)</text>
<line x1="55.6" y1="289.3" x2="79.8" y2="289.3" stroke="#1c1cb0" stroke-width="1.5" />
<text x="81.9" y="293.2" font-size="11.3" text-anchor="start" fill="#222" font-weight="normal" >100mV/s</text>
<line x1="55.6" y1="342.8" x2="79.8" y2="342.8" stroke="#333" stroke-width="1.8" />
<text x="81.9" y="346.6" font-size="11.3" text-anchor="start" fill="#222" font-weight="normal" >5mV/s</text>
<line x1="68.7" y1="336.4" x2="68.7" y2="302.6" stroke="#000" stroke-width="1.9" />
<path d="M68.7,294.4 L65.7,303.6 L68.7,302.31 L71.7,303.6 Z" fill="#000"/>
<path d="M52.4,421 C68.67,420.63 125.4,419.4 150,418.8 C174.6,418.2 185.33,417.88 200,417.4 C214.67,416.92 228.83,416.37 238,415.9 C247.17,415.43 250.27,415.18 255,414.6 C259.73,414.02 263.13,413.2 266.4,412.4 C269.67,411.6 272.38,410.73 274.6,409.8 C276.82,408.87 278.07,408.05 279.7,406.8 C281.33,405.55 282.82,404.18 284.4,402.3 C285.98,400.42 287.57,398.47 289.2,395.5 C290.83,392.53 292.57,388.83 294.2,384.5 C295.83,380.17 297.37,374.58 299,369.5 C300.63,364.42 301.85,361.25 304,354 C306.15,346.75 309.62,335 311.9,326 C314.18,317 316.13,307.78 317.7,300 C319.27,292.22 320.7,282.75 321.3,279.3 L321.3,279.3 C320.83,282.75 319.53,287.98 318.5,300 C317.47,312.02 316.52,337.15 315.1,351.4 C313.68,365.65 311.6,376.98 310,385.5 C308.4,394.02 306.83,396.83 305.5,402.5 C304.17,408.17 302.95,415.52 302,419.5 C301.05,423.48 301.62,422.87 299.8,426.4 C297.98,429.93 293.57,437.02 291.1,440.7 C288.63,444.38 287.13,445.67 285,448.5 C282.87,451.33 280.1,455.15 278.3,457.7 C276.5,460.25 275.55,462.1 274.2,463.8 C272.85,465.5 271.55,467.05 270.2,467.9 C268.85,468.75 267.63,468.38 266.1,468.9 C264.57,469.42 262.7,470.23 261,471 C259.3,471.77 257.95,472.48 255.9,473.5 C253.85,474.52 250.75,476.2 248.7,477.1 C246.65,478 245.13,478.73 243.6,478.9 C242.07,479.07 240.87,478.92 239.5,478.1 C238.13,477.28 236.93,476.38 235.4,474 C233.87,471.62 232,467.37 230.3,463.8 C228.6,460.23 226.9,455.83 225.2,452.6 C223.5,449.37 221.8,446.62 220.1,444.4 C218.4,442.18 217.02,440.78 215,439.3 C212.98,437.82 210.5,436.53 208,435.5 C205.5,434.47 209.67,434.1 200,433.1 C190.33,432.1 166.67,430.23 150,429.5 C133.33,428.77 116.27,428.87 100,428.7 C83.73,428.53 60.33,428.53 52.4,428.5 Z" stroke="#1c1cb0" stroke-width="1.6" fill="none" stroke-linejoin="round" stroke-linecap="round" />
<path d="M52.4,421.2 C68.67,420.87 125.4,419.75 150,419.2 C174.6,418.65 185,418.33 200,417.9 C215,417.47 230.33,417.03 240,416.6 C249.67,416.17 253.33,415.8 258,415.3 C262.67,414.8 265,414.32 268,413.6 C271,412.88 273.67,412.05 276,411 C278.33,409.95 280.17,408.83 282,407.3 C283.83,405.77 285.42,404.02 287,401.8 C288.58,399.58 289.97,397.13 291.5,394 C293.03,390.87 294.62,387.17 296.2,383 C297.78,378.83 299.37,373.93 301,369 C302.63,364.07 303.87,360.57 306,353.4 C308.13,346.23 311.25,335.97 313.8,326 C316.35,316.03 320.05,299 321.3,293.6 L321.3,293.6 C320.75,298 319.05,310.6 318,320 C316.95,329.4 316.05,339.17 315,350 C313.95,360.83 313.2,375.83 311.7,385 C310.2,394.17 307.7,398.4 306,405 C304.3,411.6 303.98,418.97 301.5,424.6 C299.02,430.23 293.85,435.33 291.1,438.8 C288.35,442.27 287.47,442.42 285,445.4 C282.53,448.38 278.43,453.8 276.3,456.7 C274.17,459.6 273.4,461.45 272.2,462.8 C271,464.15 270.8,464.03 269.1,464.8 C267.4,465.57 264.2,466.53 262,467.4 C259.8,468.27 257.95,469.07 255.9,470 C253.85,470.93 251.75,472.2 249.7,473 C247.65,473.8 245.13,474.72 243.6,474.8 C242.07,474.88 241.87,474.65 240.5,473.5 C239.13,472.35 237.1,470.53 235.4,467.9 C233.7,465.27 232,461.1 230.3,457.7 C228.6,454.3 226.9,450.4 225.2,447.5 C223.5,444.6 221.8,442.18 220.1,440.3 C218.4,438.42 217.02,437.42 215,436.2 C212.98,434.98 210.5,433.83 208,433 C205.5,432.17 209.67,432 200,431.2 C190.33,430.4 166.67,428.8 150,428.2 C133.33,427.6 116.27,427.73 100,427.6 C83.73,427.47 60.33,427.43 52.4,427.4 Z" stroke="#ff1a1a" stroke-width="1.6" fill="none" stroke-linejoin="round" stroke-linecap="round" />
<path d="M52.4,421.4 C68.67,421.08 125.4,420.02 150,419.5 C174.6,418.98 184.17,418.72 200,418.3 C215.83,417.88 234.67,417.43 245,417 C255.33,416.57 257.5,416.2 262,415.7 C266.5,415.2 269,414.75 272,414 C275,413.25 277.67,412.45 280,411.2 C282.33,409.95 284.17,408.37 286,406.5 C287.83,404.63 289.5,402.33 291,400 C292.5,397.67 293.82,395 295,392.5 C296.18,390 296.85,388.33 298.1,385 C299.35,381.67 300.87,377.1 302.5,372.5 C304.13,367.9 305.68,364.17 307.9,357.4 C310.12,350.63 313.57,339.92 315.8,331.9 C318.03,323.88 320.38,313.07 321.3,309.3 L321.3,309.3 C320.83,313.58 319.47,326.55 318.5,335 C317.53,343.45 316.45,351.67 315.5,360 C314.55,368.33 314.05,377.5 312.8,385 C311.55,392.5 309.8,398.4 308,405 C306.2,411.6 304.83,419.02 302,424.6 C299.17,430.18 293.83,435.37 291,438.5 C288.17,441.63 287.45,440.88 285,443.4 C282.55,445.92 278.6,451.05 276.3,453.6 C274,456.15 272.9,457.6 271.2,458.7 C269.5,459.8 268.32,459.43 266.1,460.2 C263.88,460.97 260.45,462.18 257.9,463.3 C255.35,464.42 253.02,465.97 250.8,466.9 C248.58,467.83 246.32,468.9 244.6,468.9 C242.88,468.9 242.03,468.43 240.5,466.9 C238.97,465.37 237.1,462.43 235.4,459.7 C233.7,456.97 232,453.57 230.3,450.5 C228.6,447.43 226.9,443.85 225.2,441.3 C223.5,438.75 221.8,436.63 220.1,435.2 C218.4,433.77 218.35,433.62 215,432.7 C211.65,431.78 210.83,430.6 200,429.7 C189.17,428.8 166.67,427.78 150,427.3 C133.33,426.82 116.27,426.92 100,426.8 C83.73,426.68 60.33,426.63 52.4,426.6 Z" stroke="#10f010" stroke-width="1.6" fill="none" stroke-linejoin="round" stroke-linecap="round" />
<path d="M52.4,421.6 C68.67,421.3 125.4,420.27 150,419.8 C174.6,419.33 183.33,419.18 200,418.8 C216.67,418.42 239,417.92 250,417.5 C261,417.08 261.67,416.78 266,416.3 C270.33,415.82 273,415.4 276,414.6 C279,413.8 281.62,413.02 284,411.5 C286.38,409.98 288.3,408 290.3,405.5 C292.3,403 294.03,399.92 296,396.5 C297.97,393.08 300.27,388.75 302.1,385 C303.93,381.25 305.37,377.95 307,374 C308.63,370.05 310.32,365.97 311.9,361.3 C313.48,356.63 314.93,351.4 316.5,346 C318.07,340.6 320.5,331.75 321.3,328.9 L321.3,328.9 C321,332.42 320.22,342.32 319.5,350 C318.78,357.68 317.92,367.5 317,375 C316.08,382.5 315.33,388.83 314,395 C312.67,401.17 311,407.07 309,412 C307,416.93 305.17,420.6 302,424.6 C298.83,428.6 292.83,433.55 290,436 C287.17,438.45 287.28,437.55 285,439.3 C282.72,441.05 278.6,444.45 276.3,446.5 C274,448.55 272.9,450.58 271.2,451.6 C269.5,452.62 268.32,451.83 266.1,452.6 C263.88,453.37 260.45,454.93 257.9,456.2 C255.35,457.47 253.02,459.35 250.8,460.2 C248.58,461.05 246.48,461.72 244.6,461.3 C242.72,460.88 241.37,460 239.5,457.7 C237.63,455.4 235.43,450.9 233.4,447.5 C231.37,444.1 229.35,440.03 227.3,437.3 C225.25,434.57 223.15,432.47 221.1,431.1 C219.05,429.73 218.52,429.55 215,429.1 C211.48,428.65 210.83,428.83 200,428.4 C189.17,427.97 166.67,426.87 150,426.5 C133.33,426.13 116.27,426.28 100,426.2 C83.73,426.12 60.33,426.03 52.4,426 Z" stroke="#ff10ff" stroke-width="1.6" fill="none" stroke-linejoin="round" stroke-linecap="round" />
<path d="M52.4,421.8 C68.67,421.53 125.4,420.6 150,420.2 C174.6,419.8 183.33,419.7 200,419.4 C216.67,419.1 238.33,418.7 250,418.4 C261.67,418.1 264.67,418.07 270,417.6 C275.33,417.13 278.67,416.57 282,415.6 C285.33,414.63 287.67,413.48 290,411.8 C292.33,410.12 294.17,407.72 296,405.5 C297.83,403.28 299.33,401.25 301,398.5 C302.67,395.75 304.5,392 306,389 C307.5,386 308.7,383.48 310,380.5 C311.3,377.52 312.55,374.18 313.8,371.1 C315.05,368.02 316.35,364.95 317.5,362 C318.65,359.05 320.17,354.83 320.7,353.4 L320.7,353.4 C320.58,357 320.45,368.07 320,375 C319.55,381.93 318.83,389.17 318,395 C317.17,400.83 316.33,405.83 315,410 C313.67,414.17 312.17,417.5 310,420 C307.83,422.5 305,423.33 302,425 C299,426.67 294.83,428.55 292,430 C289.17,431.45 287.28,432.32 285,433.7 C282.72,435.08 280.6,436.77 278.3,438.3 C276,439.83 273.23,441.97 271.2,442.9 C269.17,443.83 268.32,443.3 266.1,443.9 C263.88,444.5 260.45,445.4 257.9,446.5 C255.35,447.6 253.02,449.57 250.8,450.5 C248.58,451.43 246.48,452.43 244.6,452.1 C242.72,451.77 241.37,450.47 239.5,448.5 C237.63,446.53 235.43,443.02 233.4,440.3 C231.37,437.58 229.35,434.23 227.3,432.2 C225.25,430.17 223.15,429.05 221.1,428.1 C219.05,427.15 218.52,426.88 215,426.5 C211.48,426.12 210.83,426 200,425.8 C189.17,425.6 166.67,425.43 150,425.3 C133.33,425.17 116.27,425.05 100,425 C83.73,424.95 60.33,425 52.4,425 Z" stroke="#ff8c1a" stroke-width="1.6" fill="none" stroke-linejoin="round" stroke-linecap="round" />
<path d="M52.4,421.8 C68.67,421.58 125.4,420.8 150,420.5 C174.6,420.2 183.33,420.18 200,420 C216.67,419.82 238.33,419.57 250,419.4 C261.67,419.23 264.67,419.33 270,419 C275.33,418.67 278.5,418.23 282,417.4 C285.5,416.57 288.32,415.48 291,414 C293.68,412.52 295.93,410.58 298.1,408.5 C300.27,406.42 302.03,404.15 304,401.5 C305.97,398.85 308.32,395.43 309.9,392.6 C311.48,389.77 312.48,387.1 313.5,384.5 C314.52,381.9 315.25,378.58 316,377 C316.75,375.42 317.12,375.33 318,375 C318.88,374.67 320.75,375 321.3,375 L321.3,375 C321.32,377.67 321.53,386.5 321.4,391 C321.27,395.5 320.98,398.5 320.5,402 C320.02,405.5 319.75,408.92 318.5,412 C317.25,415.08 315.75,418.33 313,420.5 C310.25,422.67 305.5,423.83 302,425 C298.5,426.17 294.83,426.73 292,427.5 C289.17,428.27 287.28,428.65 285,429.6 C282.72,430.55 280.6,432.1 278.3,433.2 C276,434.3 274.08,435.35 271.2,436.2 C268.32,437.05 264.07,437.45 261,438.3 C257.93,439.15 255.18,440.37 252.8,441.3 C250.42,442.23 248.4,443.55 246.7,443.9 C245,444.25 244.13,444.33 242.6,443.4 C241.07,442.47 239.38,440.35 237.5,438.3 C235.62,436.25 233.35,433.15 231.3,431.1 C229.25,429.05 227.92,427.02 225.2,426 C222.48,424.98 219.2,425.2 215,425 C210.8,424.8 210.83,424.88 200,424.8 C189.17,424.72 166.67,424.6 150,424.5 C133.33,424.4 116.27,424.28 100,424.2 C83.73,424.12 60.33,424.03 52.4,424 Z" stroke="#8a14f0" stroke-width="1.6" fill="none" stroke-linejoin="round" stroke-linecap="round" />
<path d="M52.4,421.8 C60.33,421.7 83.73,421.4 100,421.2 C116.27,421 133.33,420.8 150,420.6 C166.67,420.4 185,420.18 200,420 C215,419.82 229.17,419.67 240,419.5 C250.83,419.33 257.5,419.18 265,419 C272.5,418.82 279.77,419.82 285,418.4 C290.23,416.98 292.62,414.1 296.4,410.5 C300.18,406.9 304.87,400.03 307.7,396.8 C310.53,393.57 311.97,392.23 313.4,391.1 C314.83,389.97 315.28,389.93 316.3,390 C317.32,390.07 318.67,390.4 319.5,391.5 C320.33,392.6 321,395.75 321.3,396.6 L321.3,396.6 C321.17,398 320.87,402.68 320.5,405 C320.13,407.32 320.28,408.08 319.1,410.5 C317.92,412.92 316.25,417.23 313.4,419.5 C310.55,421.77 305.57,423.1 302,424.1 C298.43,425.1 294.83,425.1 292,425.5 C289.17,425.9 288.47,425.73 285,426.5 C281.53,427.27 275.2,429.07 271.2,430.1 C267.2,431.13 264.07,431.6 261,432.7 C257.93,433.8 255.18,435.85 252.8,436.7 C250.42,437.55 248.57,438.22 246.7,437.8 C244.83,437.38 243.48,435.82 241.6,434.2 C239.72,432.58 237.28,429.63 235.4,428.1 C233.52,426.57 232.87,425.68 230.3,425 C227.73,424.32 225.05,424.23 220,424 C214.95,423.77 211.67,423.73 200,423.6 C188.33,423.47 166.67,423.3 150,423.2 C133.33,423.1 116.27,423.03 100,423 C83.73,422.97 60.33,423 52.4,423 Z" stroke="#111111" stroke-width="1.6" fill="none" stroke-linejoin="round" stroke-linecap="round" />
<rect x="48.6" y="277" width="276.6" height="205.4" fill="none" stroke="#262626" stroke-width="1.6"/>
<line x1="400.5" y1="484.3" x2="400.5" y2="489.1" stroke="#1a1a1a" stroke-width="1.2" />
<text x="400.5" y="501.2" font-size="12.5" text-anchor="middle" fill="#1a1a1a" font-weight="normal" >0</text>
<line x1="427.95" y1="484.3" x2="427.95" y2="487.3" stroke="#1a1a1a" stroke-width="1.2" />
<line x1="455.4" y1="484.3" x2="455.4" y2="489.1" stroke="#1a1a1a" stroke-width="1.2" />
<text x="455.4" y="501.2" font-size="12.5" text-anchor="middle" fill="#1a1a1a" font-weight="normal" >20</text>
<line x1="482.85" y1="484.3" x2="482.85" y2="487.3" stroke="#1a1a1a" stroke-width="1.2" />
<line x1="510.3" y1="484.3" x2="510.3" y2="489.1" stroke="#1a1a1a" stroke-width="1.2" />
<text x="510.3" y="501.2" font-size="12.5" text-anchor="middle" fill="#1a1a1a" font-weight="normal" >40</text>
<line x1="537.75" y1="484.3" x2="537.75" y2="487.3" stroke="#1a1a1a" stroke-width="1.2" />
<line x1="565.2" y1="484.3" x2="565.2" y2="489.1" stroke="#1a1a1a" stroke-width="1.2" />
<text x="565.2" y="501.2" font-size="12.5" text-anchor="middle" fill="#1a1a1a" font-weight="normal" >60</text>
<line x1="592.65" y1="484.3" x2="592.65" y2="487.3" stroke="#1a1a1a" stroke-width="1.2" />
<line x1="620.1" y1="484.3" x2="620.1" y2="489.1" stroke="#1a1a1a" stroke-width="1.2" />
<text x="620.1" y="501.2" font-size="12.5" text-anchor="middle" fill="#1a1a1a" font-weight="normal" >80</text>
<line x1="647.55" y1="484.3" x2="647.55" y2="487.3" stroke="#1a1a1a" stroke-width="1.2" />
<line x1="675" y1="484.3" x2="675" y2="489.1" stroke="#1a1a1a" stroke-width="1.2" />
<text x="675" y="501.2" font-size="12.5" text-anchor="middle" fill="#1a1a1a" font-weight="normal" >100</text>
<line x1="398.6" y1="484.2" x2="393.4" y2="484.2" stroke="#1a1a1a" stroke-width="1.2" />
<text x="391.4" y="488.5" font-size="12.5" text-anchor="end" fill="#1a1a1a" font-weight="normal" >-0.1</text>
<line x1="398.6" y1="467.6" x2="395.6" y2="467.6" stroke="#1a1a1a" stroke-width="1.2" />
<line x1="398.6" y1="451" x2="393.4" y2="451" stroke="#1a1a1a" stroke-width="1.2" />
<text x="391.4" y="455.3" font-size="12.5" text-anchor="end" fill="#1a1a1a" font-weight="normal" >0.0</text>
<line x1="398.6" y1="434.4" x2="395.6" y2="434.4" stroke="#1a1a1a" stroke-width="1.2" />
<line x1="398.6" y1="417.8" x2="393.4" y2="417.8" stroke="#1a1a1a" stroke-width="1.2" />
<text x="391.4" y="422.1" font-size="12.5" text-anchor="end" fill="#1a1a1a" font-weight="normal" >0.1</text>
<line x1="398.6" y1="401.2" x2="395.6" y2="401.2" stroke="#1a1a1a" stroke-width="1.2" />
<line x1="398.6" y1="384.6" x2="393.4" y2="384.6" stroke="#1a1a1a" stroke-width="1.2" />
<text x="391.4" y="388.9" font-size="12.5" text-anchor="end" fill="#1a1a1a" font-weight="normal" >0.2</text>
<line x1="398.6" y1="368" x2="395.6" y2="368" stroke="#1a1a1a" stroke-width="1.2" />
<line x1="398.6" y1="351.4" x2="393.4" y2="351.4" stroke="#1a1a1a" stroke-width="1.2" />
<text x="391.4" y="355.7" font-size="12.5" text-anchor="end" fill="#1a1a1a" font-weight="normal" >0.3</text>
<line x1="398.6" y1="334.8" x2="395.6" y2="334.8" stroke="#1a1a1a" stroke-width="1.2" />
<line x1="398.6" y1="318.2" x2="393.4" y2="318.2" stroke="#1a1a1a" stroke-width="1.2" />
<text x="391.4" y="322.5" font-size="12.5" text-anchor="end" fill="#1a1a1a" font-weight="normal" >0.4</text>
<line x1="398.6" y1="301.6" x2="395.6" y2="301.6" stroke="#1a1a1a" stroke-width="1.2" />
<line x1="398.6" y1="285" x2="393.4" y2="285" stroke="#1a1a1a" stroke-width="1.2" />
<text x="391.4" y="289.3" font-size="12.5" text-anchor="end" fill="#1a1a1a" font-weight="normal" >0.5</text>
<text x="536.7" y="519.4" font-size="19.6" text-anchor="middle" fill="#1a1a1a" font-weight="normal" >Time (s)</text>
<text transform="translate(367.8,383.2) rotate(-90) scale(1,1.07)" x="0" y="0" font-size="19.3" text-anchor="middle" fill="#1a1a1a" >Potential (V) vs. Hg/HgO</text>
<text x="654" y="304.45" font-size="27" text-anchor="middle" fill="#0a0a0a" font-weight="bold" >(d)</text>
<line x1="548.8" y1="401.4" x2="573.5" y2="401.4" stroke="#1c1cb0" stroke-width="1.5" />
<text x="576.2" y="405.2" font-size="11.0" text-anchor="start" fill="#222" font-weight="normal" >1A/g</text>
<line x1="548.8" y1="454.8" x2="573.5" y2="454.8" stroke="#333" stroke-width="1.8" />
<text x="576.2" y="458.6" font-size="11.0" text-anchor="start" fill="#222" font-weight="normal" >10A/g</text>
<line x1="561" y1="407" x2="561" y2="438.9" stroke="#000" stroke-width="1.9" />
<path d="M561,446.7 L558.1,437.9 L561,439.13 L563.9,437.9 Z" fill="#000"/>
<path d="M400.5,484 C400.55,473.33 400.67,437.33 400.8,420 C400.93,402.67 401.02,395 401.3,380 C401.58,365 402.13,342.5 402.5,330 C402.87,317.5 403,311.17 403.5,305 C404,298.83 404.88,296.22 405.5,293 C406.12,289.78 406.92,286.92 407.2,285.7 L407.2,285.7 C407.37,289.87 407.82,301.65 408.2,310.7 C408.58,319.75 409.08,331.48 409.5,340 C409.92,348.52 410.28,351.8 410.7,361.8 C411.12,371.8 411.68,386.97 412,400 C412.32,413.03 412.45,426 412.6,440 C412.75,454 412.85,476.67 412.9,484" stroke="#111111" stroke-width="1.25" fill="none" stroke-linejoin="round" stroke-linecap="round" />
<path d="M400.5,484 C400.55,473.33 400.67,439 400.8,420 C400.93,401 401.1,386.67 401.3,370 C401.5,353.33 401.55,331.33 402,320 C402.45,308.67 403.17,306.5 404,302 C404.83,297.5 406.13,295.72 407,293 C407.87,290.28 408.83,286.92 409.2,285.7 L409.2,285.7 C409.55,289.87 410.58,304.15 411.3,310.7 C412.02,317.25 412.82,319.9 413.5,325 C414.18,330.1 414.85,332.13 415.4,341.3 C415.95,350.47 416.47,366.88 416.8,380 C417.13,393.12 417.23,402.67 417.4,420 C417.57,437.33 417.73,473.33 417.8,484" stroke="#1e961e" stroke-width="1.25" fill="none" stroke-linejoin="round" stroke-linecap="round" />
<path d="M400.5,484 C400.55,473.33 400.68,439 400.8,420 C400.92,401 400.98,386.67 401.2,370 C401.42,353.33 401.72,330.67 402.1,320 C402.48,309.33 402.82,309.6 403.5,306 C404.18,302.4 405.12,300.73 406.2,298.4 C407.28,296.07 408.82,294.12 410,292 C411.18,289.88 412.75,286.75 413.3,285.7 L413.3,285.7 C413.65,289.87 414.62,304.15 415.4,310.7 C416.18,317.25 417.15,320.57 418,325 C418.85,329.43 419.57,332.87 420.5,337.3 C421.43,341.73 422.88,344.48 423.6,351.6 C424.32,358.72 424.47,368.6 424.8,380 C425.13,391.4 425.4,402.67 425.6,420 C425.8,437.33 425.93,473.33 426,484" stroke="#ff10ff" stroke-width="1.25" fill="none" stroke-linejoin="round" stroke-linecap="round" />
<path d="M400.5,484 C400.53,473.33 400.6,445.67 400.7,420 C400.8,394.33 400.8,349 401.1,330 C401.4,311 401.65,310.93 402.5,306 C403.35,301.07 404.22,302 406.2,300.4 C408.18,298.8 412.02,297.93 414.4,296.4 C416.78,294.87 419.07,292.98 420.5,291.2 C421.93,289.42 422.58,286.62 423,285.7 L423,285.7 C423.27,289.87 423.32,303.82 424.6,310.7 C425.88,317.58 428.97,322.95 430.7,327 C432.43,331.05 433.63,332.27 435,335 C436.37,337.73 437.92,340.3 438.9,343.4 C439.88,346.5 440.22,347.13 440.9,353.6 C441.58,360.07 442.48,371.13 443,382.2 C443.52,393.27 443.82,403.03 444,420 C444.18,436.97 444.08,473.33 444.1,484" stroke="#1e961e" stroke-width="1.25" fill="none" stroke-linejoin="round" stroke-linecap="round" />
<path d="M400.5,484 C400.53,476.67 400.6,453.55 400.7,440 C400.8,426.45 400.8,419.15 401.1,402.7 C401.4,386.25 402,355.95 402.5,341.3 C403,326.65 403.15,320.75 404.1,314.8 C405.05,308.85 405.82,307.82 408.2,305.6 C410.58,303.38 414.3,302.87 418.4,301.5 C422.5,300.13 428.37,299.12 432.8,297.4 C437.23,295.68 441.77,293.15 445,291.2 C448.23,289.25 451,286.62 452.2,285.7 L452.2,285.7 C452.72,288.15 454.12,296.23 455.3,300.4 C456.48,304.57 456.92,306.6 459.3,310.7 C461.68,314.8 466.18,320.92 469.6,325 C473.02,329.08 476.4,332.48 479.8,335.2 C483.2,337.92 487.62,338.92 490,341.3 C492.38,343.68 493.07,346.08 494.1,349.5 C495.13,352.92 495.52,356.35 496.2,361.8 C496.88,367.25 497.65,372.5 498.2,382.2 C498.75,391.9 499.12,407.03 499.5,420 C499.88,432.97 500.25,449.33 500.5,460 C500.75,470.67 500.92,480 501,484" stroke="#ff1a1a" stroke-width="1.25" fill="none" stroke-linejoin="round" stroke-linecap="round" />
<path d="M400.5,484 C400.6,476.67 400.93,450.83 401.1,440 C401.27,429.17 401.17,428.63 401.5,419 C401.83,409.37 402.48,395.15 403.1,382.2 C403.72,369.25 404.35,351.52 405.2,341.3 C406.05,331.08 407.35,325.67 408.2,320.9 C409.05,316.13 409.27,314.75 410.3,312.7 C411.33,310.65 412.02,309.97 414.4,308.6 C416.78,307.23 420.52,305.58 424.6,304.5 C428.68,303.42 433.12,303.05 438.9,302.1 C444.68,301.15 452.48,299.93 459.3,298.8 C466.12,297.67 472.98,296.57 479.8,295.3 C486.62,294.03 492.92,292.8 500.2,291.2 C507.48,289.6 519.62,286.62 523.5,285.7 L523.5,285.7 C524.25,287.85 525.48,294.02 528,298.6 C530.52,303.18 534.63,309.45 538.6,313.2 C542.57,316.95 546.95,318.45 551.8,321.1 C556.65,323.75 561.95,326.88 567.7,329.1 C573.45,331.32 580.1,332.63 586.3,334.4 C592.5,336.17 600.48,338.15 604.9,339.7 C609.32,341.25 610.37,341.72 612.8,343.7 C615.23,345.68 617.73,347.63 619.5,351.6 C621.27,355.57 622.3,360.87 623.4,367.5 C624.5,374.13 625.2,381.67 626.1,391.4 C627,401.13 627.92,413.52 628.8,425.9 C629.68,438.28 630.75,456.02 631.4,465.7 C632.05,475.38 632.48,480.95 632.7,484" stroke="#1c1cb0" stroke-width="1.25" fill="none" stroke-linejoin="round" stroke-linecap="round" />
<rect x="398.6" y="279" width="276.5" height="205.3" fill="none" stroke="#262626" stroke-width="1.6"/>
<defs><linearGradient id="ge" x1="0" y1="0" x2="0" y2="1"><stop offset="0" stop-color="#ff4048"/><stop offset="0.5" stop-color="#e0407a"/><stop offset="1" stop-color="#4a48a8"/></linearGradient></defs>
<rect x="53.1" y="568.97" width="24.4" height="185.03" fill="url(#ge)" stroke="#2a2a2a" stroke-width="0.9"/>
<rect x="80.27" y="580.72" width="24.4" height="173.28" fill="url(#ge)" stroke="#2a2a2a" stroke-width="0.9"/>
<rect x="134.61" y="583.65" width="24.4" height="170.35" fill="url(#ge)" stroke="#2a2a2a" stroke-width="0.9"/>
<rect x="188.95" y="592.47" width="24.4" height="161.53" fill="url(#ge)" stroke="#2a2a2a" stroke-width="0.9"/>
<rect x="243.29" y="604.21" width="24.4" height="149.79" fill="url(#ge)" stroke="#2a2a2a" stroke-width="0.9"/>
<rect x="297.63" y="613.02" width="24.4" height="140.98" fill="url(#ge)" stroke="#2a2a2a" stroke-width="0.9"/>
<line x1="52.3" y1="739.32" x2="326.3" y2="739.32" stroke="#cbcbcb" stroke-width="1" stroke-dasharray="2.2 1.6" style="mix-blend-mode:multiply"/>
<line x1="52.3" y1="709.95" x2="326.3" y2="709.95" stroke="#cbcbcb" stroke-width="1" stroke-dasharray="2.2 1.6" style="mix-blend-mode:multiply"/>
<line x1="52.3" y1="680.58" x2="326.3" y2="680.58" stroke="#cbcbcb" stroke-width="1" stroke-dasharray="2.2 1.6" style="mix-blend-mode:multiply"/>
<line x1="52.3" y1="651.21" x2="326.3" y2="651.21" stroke="#cbcbcb" stroke-width="1" stroke-dasharray="2.2 1.6" style="mix-blend-mode:multiply"/>
<line x1="52.3" y1="621.84" x2="326.3" y2="621.84" stroke="#cbcbcb" stroke-width="1" stroke-dasharray="2.2 1.6" style="mix-blend-mode:multiply"/>
<line x1="52.3" y1="592.47" x2="326.3" y2="592.47" stroke="#cbcbcb" stroke-width="1" stroke-dasharray="2.2 1.6" style="mix-blend-mode:multiply"/>
<line x1="52.3" y1="563.1" x2="326.3" y2="563.1" stroke="#cbcbcb" stroke-width="1" stroke-dasharray="2.2 1.6" style="mix-blend-mode:multiply"/>
<line x1="51.71" y1="754" x2="51.71" y2="757" stroke="#222" stroke-width="1.2" />
<line x1="65.3" y1="754" x2="65.3" y2="758.8" stroke="#222" stroke-width="1.2" />
<text transform="translate(65.3,770) scale(0.87,1)" x="0" y="0" font-size="13.0" text-anchor="middle" fill="#444">1</text>
<line x1="78.88" y1="754" x2="78.88" y2="757" stroke="#222" stroke-width="1.2" />
<line x1="92.47" y1="754" x2="92.47" y2="758.8" stroke="#222" stroke-width="1.2" />
<text transform="translate(92.47,770) scale(0.87,1)" x="0" y="0" font-size="13.0" text-anchor="middle" fill="#444">2</text>
<line x1="106.06" y1="754" x2="106.06" y2="757" stroke="#222" stroke-width="1.2" />
<line x1="119.64" y1="754" x2="119.64" y2="758.8" stroke="#222" stroke-width="1.2" />
<text transform="translate(119.64,770) scale(0.87,1)" x="0" y="0" font-size="13.0" text-anchor="middle" fill="#444">3</text>
<line x1="133.23" y1="754" x2="133.23" y2="757" stroke="#222" stroke-width="1.2" />
<line x1="146.81" y1="754" x2="146.81" y2="758.8" stroke="#222" stroke-width="1.2" />
<text transform="translate(146.81,770) scale(0.87,1)" x="0" y="0" font-size="13.0" text-anchor="middle" fill="#444">4</text>
<line x1="160.39" y1="754" x2="160.39" y2="757" stroke="#222" stroke-width="1.2" />
<line x1="173.98" y1="754" x2="173.98" y2="758.8" stroke="#222" stroke-width="1.2" />
<text transform="translate(173.98,770) scale(0.87,1)" x="0" y="0" font-size="13.0" text-anchor="middle" fill="#444">5</text>
<line x1="187.56" y1="754" x2="187.56" y2="757" stroke="#222" stroke-width="1.2" />
<line x1="201.15" y1="754" x2="201.15" y2="758.8" stroke="#222" stroke-width="1.2" />
<text transform="translate(201.15,770) scale(0.87,1)" x="0" y="0" font-size="13.0" text-anchor="middle" fill="#444">6</text>
<line x1="214.74" y1="754" x2="214.74" y2="757" stroke="#222" stroke-width="1.2" />
<line x1="228.32" y1="754" x2="228.32" y2="758.8" stroke="#222" stroke-width="1.2" />
<text transform="translate(228.32,770) scale(0.87,1)" x="0" y="0" font-size="13.0" text-anchor="middle" fill="#444">7</text>
<line x1="241.91" y1="754" x2="241.91" y2="757" stroke="#222" stroke-width="1.2" />
<line x1="255.49" y1="754" x2="255.49" y2="758.8" stroke="#222" stroke-width="1.2" />
<text transform="translate(255.49,770) scale(0.87,1)" x="0" y="0" font-size="13.0" text-anchor="middle" fill="#444">8</text>
<line x1="269.07" y1="754" x2="269.07" y2="757" stroke="#222" stroke-width="1.2" />
<line x1="282.66" y1="754" x2="282.66" y2="758.8" stroke="#222" stroke-width="1.2" />
<text transform="translate(282.66,770) scale(0.87,1)" x="0" y="0" font-size="13.0" text-anchor="middle" fill="#444">9</text>
<line x1="296.25" y1="754" x2="296.25" y2="757" stroke="#222" stroke-width="1.2" />
<line x1="309.83" y1="754" x2="309.83" y2="758.8" stroke="#222" stroke-width="1.2" />
<text transform="translate(309.83,770) scale(0.87,1)" x="0" y="0" font-size="13.0" text-anchor="middle" fill="#444">10</text>
<line x1="323.42" y1="754" x2="323.42" y2="757" stroke="#222" stroke-width="1.2" />
<line x1="51.3" y1="754" x2="46.3" y2="754" stroke="#222" stroke-width="1.2" />
<text transform="translate(43.6,758.6) scale(0.87,1)" x="0" y="0" font-size="13.6" text-anchor="end" fill="#444">0</text>
<line x1="51.3" y1="739.32" x2="48.3" y2="739.32" stroke="#222" stroke-width="1.2" />
<line x1="51.3" y1="724.63" x2="46.3" y2="724.63" stroke="#222" stroke-width="1.2" />
<text transform="translate(43.6,729.23) scale(0.87,1)" x="0" y="0" font-size="13.6" text-anchor="end" fill="#444">10</text>
<line x1="51.3" y1="709.95" x2="48.3" y2="709.95" stroke="#222" stroke-width="1.2" />
<line x1="51.3" y1="695.26" x2="46.3" y2="695.26" stroke="#222" stroke-width="1.2" />
<text transform="translate(43.6,699.86) scale(0.87,1)" x="0" y="0" font-size="13.6" text-anchor="end" fill="#444">20</text>
<line x1="51.3" y1="680.58" x2="48.3" y2="680.58" stroke="#222" stroke-width="1.2" />
<line x1="51.3" y1="665.89" x2="46.3" y2="665.89" stroke="#222" stroke-width="1.2" />
<text transform="translate(43.6,670.49) scale(0.87,1)" x="0" y="0" font-size="13.6" text-anchor="end" fill="#444">30</text>
<line x1="51.3" y1="651.21" x2="48.3" y2="651.21" stroke="#222" stroke-width="1.2" />
<line x1="51.3" y1="636.52" x2="46.3" y2="636.52" stroke="#222" stroke-width="1.2" />
<text transform="translate(43.6,641.12) scale(0.87,1)" x="0" y="0" font-size="13.6" text-anchor="end" fill="#444">40</text>
<line x1="51.3" y1="621.84" x2="48.3" y2="621.84" stroke="#222" stroke-width="1.2" />
<line x1="51.3" y1="607.15" x2="46.3" y2="607.15" stroke="#222" stroke-width="1.2" />
<text transform="translate(43.6,611.75) scale(0.87,1)" x="0" y="0" font-size="13.6" text-anchor="end" fill="#444">50</text>
<line x1="51.3" y1="592.47" x2="48.3" y2="592.47" stroke="#222" stroke-width="1.2" />
<line x1="51.3" y1="577.78" x2="46.3" y2="577.78" stroke="#222" stroke-width="1.2" />
<text transform="translate(43.6,582.38) scale(0.87,1)" x="0" y="0" font-size="13.6" text-anchor="end" fill="#444">60</text>
<line x1="51.3" y1="563.1" x2="48.3" y2="563.1" stroke="#222" stroke-width="1.2" />
<line x1="51.3" y1="548.41" x2="46.3" y2="548.41" stroke="#222" stroke-width="1.2" />
<text transform="translate(43.6,553.01) scale(0.87,1)" x="0" y="0" font-size="13.6" text-anchor="end" fill="#444">70</text>
<text transform="translate(21.7,652.6) rotate(-90) scale(1,1.07)" x="0" y="0" font-size="19.0" text-anchor="middle" fill="#333" >Specific capacitnace (F/g)</text>
<text x="189" y="784.2" font-size="18.9" text-anchor="middle" fill="#333" font-weight="normal" >Current desnity (A/g)</text>
<text x="306.3" y="571.25" font-size="27" text-anchor="middle" fill="#0a0a0a" font-weight="bold" >(e)</text>
<rect x="51.3" y="548.3" width="276" height="205.7" fill="none" stroke="#2a2a2a" stroke-width="1.5"/>
<defs><linearGradient id="gf" x1="0" y1="0" x2="0" y2="1"><stop offset="0" stop-color="#a84050"/><stop offset="0.5" stop-color="#883e84"/><stop offset="1" stop-color="#4440b0"/></linearGradient></defs>
<rect x="409.6" y="570.89" width="23.2" height="183.5" fill="url(#gf)" stroke="#2a2a2a" stroke-width="0.9"/>
<rect x="435.32" y="668.26" width="23.2" height="86.13" fill="url(#gf)" stroke="#2a2a2a" stroke-width="0.9"/>
<rect x="486.76" y="672.01" width="23.2" height="82.39" fill="url(#gf)" stroke="#2a2a2a" stroke-width="0.9"/>
<rect x="538.2" y="679.5" width="23.2" height="74.9" fill="url(#gf)" stroke="#2a2a2a" stroke-width="0.9"/>
<rect x="589.64" y="686.99" width="23.2" height="67.41" fill="url(#gf)" stroke="#2a2a2a" stroke-width="0.9"/>
<rect x="641.08" y="698.23" width="23.2" height="56.17" fill="url(#gf)" stroke="#2a2a2a" stroke-width="0.9"/>
<line x1="399.2" y1="716.95" x2="674.2" y2="716.95" stroke="#cbcbcb" stroke-width="1" stroke-dasharray="2.2 1.6" style="mix-blend-mode:multiply"/>
<line x1="399.2" y1="679.5" x2="674.2" y2="679.5" stroke="#cbcbcb" stroke-width="1" stroke-dasharray="2.2 1.6" style="mix-blend-mode:multiply"/>
<line x1="399.2" y1="642.05" x2="674.2" y2="642.05" stroke="#cbcbcb" stroke-width="1" stroke-dasharray="2.2 1.6" style="mix-blend-mode:multiply"/>
<line x1="399.2" y1="604.6" x2="674.2" y2="604.6" stroke="#cbcbcb" stroke-width="1" stroke-dasharray="2.2 1.6" style="mix-blend-mode:multiply"/>
<line x1="399.2" y1="567.15" x2="674.2" y2="567.15" stroke="#cbcbcb" stroke-width="1" stroke-dasharray="2.2 1.6" style="mix-blend-mode:multiply"/>
<line x1="408.34" y1="754.4" x2="408.34" y2="757.4" stroke="#222" stroke-width="1.2" />
<line x1="421.2" y1="754.4" x2="421.2" y2="759.2" stroke="#222" stroke-width="1.2" />
<text transform="translate(421.2,770) scale(0.87,1)" x="0" y="0" font-size="13.0" text-anchor="middle" fill="#444">1</text>
<line x1="434.06" y1="754.4" x2="434.06" y2="757.4" stroke="#222" stroke-width="1.2" />
<line x1="446.92" y1="754.4" x2="446.92" y2="759.2" stroke="#222" stroke-width="1.2" />
<text transform="translate(446.92,770) scale(0.87,1)" x="0" y="0" font-size="13.0" text-anchor="middle" fill="#444">2</text>
<line x1="459.78" y1="754.4" x2="459.78" y2="757.4" stroke="#222" stroke-width="1.2" />
<line x1="472.64" y1="754.4" x2="472.64" y2="759.2" stroke="#222" stroke-width="1.2" />
<text transform="translate(472.64,770) scale(0.87,1)" x="0" y="0" font-size="13.0" text-anchor="middle" fill="#444">3</text>
<line x1="485.5" y1="754.4" x2="485.5" y2="757.4" stroke="#222" stroke-width="1.2" />
<line x1="498.36" y1="754.4" x2="498.36" y2="759.2" stroke="#222" stroke-width="1.2" />
<text transform="translate(498.36,770) scale(0.87,1)" x="0" y="0" font-size="13.0" text-anchor="middle" fill="#444">4</text>
<line x1="511.22" y1="754.4" x2="511.22" y2="757.4" stroke="#222" stroke-width="1.2" />
<line x1="524.08" y1="754.4" x2="524.08" y2="759.2" stroke="#222" stroke-width="1.2" />
<text transform="translate(524.08,770) scale(0.87,1)" x="0" y="0" font-size="13.0" text-anchor="middle" fill="#444">5</text>
<line x1="536.94" y1="754.4" x2="536.94" y2="757.4" stroke="#222" stroke-width="1.2" />
<line x1="549.8" y1="754.4" x2="549.8" y2="759.2" stroke="#222" stroke-width="1.2" />
<text transform="translate(549.8,770) scale(0.87,1)" x="0" y="0" font-size="13.0" text-anchor="middle" fill="#444">6</text>
<line x1="562.66" y1="754.4" x2="562.66" y2="757.4" stroke="#222" stroke-width="1.2" />
<line x1="575.52" y1="754.4" x2="575.52" y2="759.2" stroke="#222" stroke-width="1.2" />
<text transform="translate(575.52,770) scale(0.87,1)" x="0" y="0" font-size="13.0" text-anchor="middle" fill="#444">7</text>
<line x1="588.38" y1="754.4" x2="588.38" y2="757.4" stroke="#222" stroke-width="1.2" />
<line x1="601.24" y1="754.4" x2="601.24" y2="759.2" stroke="#222" stroke-width="1.2" />
<text transform="translate(601.24,770) scale(0.87,1)" x="0" y="0" font-size="13.0" text-anchor="middle" fill="#444">8</text>
<line x1="614.1" y1="754.4" x2="614.1" y2="757.4" stroke="#222" stroke-width="1.2" />
<line x1="626.96" y1="754.4" x2="626.96" y2="759.2" stroke="#222" stroke-width="1.2" />
<text transform="translate(626.96,770) scale(0.87,1)" x="0" y="0" font-size="13.0" text-anchor="middle" fill="#444">9</text>
<line x1="639.82" y1="754.4" x2="639.82" y2="757.4" stroke="#222" stroke-width="1.2" />
<line x1="652.68" y1="754.4" x2="652.68" y2="759.2" stroke="#222" stroke-width="1.2" />
<text transform="translate(652.68,770) scale(0.87,1)" x="0" y="0" font-size="13.0" text-anchor="middle" fill="#444">10</text>
<line x1="665.54" y1="754.4" x2="665.54" y2="757.4" stroke="#222" stroke-width="1.2" />
<line x1="398.2" y1="754.4" x2="393.2" y2="754.4" stroke="#222" stroke-width="1.2" />
<text transform="translate(389.6,759) scale(0.87,1)" x="0" y="0" font-size="13.6" text-anchor="end" fill="#444">0</text>
<line x1="398.2" y1="735.67" x2="395.2" y2="735.67" stroke="#222" stroke-width="1.2" />
<line x1="398.2" y1="716.95" x2="393.2" y2="716.95" stroke="#222" stroke-width="1.2" />
<text transform="translate(389.6,721.55) scale(0.87,1)" x="0" y="0" font-size="13.6" text-anchor="end" fill="#444">10</text>
<line x1="398.2" y1="698.23" x2="395.2" y2="698.23" stroke="#222" stroke-width="1.2" />
<line x1="398.2" y1="679.5" x2="393.2" y2="679.5" stroke="#222" stroke-width="1.2" />
<text transform="translate(389.6,684.1) scale(0.87,1)" x="0" y="0" font-size="13.6" text-anchor="end" fill="#444">20</text>
<line x1="398.2" y1="660.77" x2="395.2" y2="660.77" stroke="#222" stroke-width="1.2" />
<line x1="398.2" y1="642.05" x2="393.2" y2="642.05" stroke="#222" stroke-width="1.2" />
<text transform="translate(389.6,646.65) scale(0.87,1)" x="0" y="0" font-size="13.6" text-anchor="end" fill="#444">30</text>
<line x1="398.2" y1="623.32" x2="395.2" y2="623.32" stroke="#222" stroke-width="1.2" />
<line x1="398.2" y1="604.6" x2="393.2" y2="604.6" stroke="#222" stroke-width="1.2" />
<text transform="translate(389.6,609.2) scale(0.87,1)" x="0" y="0" font-size="13.6" text-anchor="end" fill="#444">40</text>
<line x1="398.2" y1="585.88" x2="395.2" y2="585.88" stroke="#222" stroke-width="1.2" />
<line x1="398.2" y1="567.15" x2="393.2" y2="567.15" stroke="#222" stroke-width="1.2" />
<text transform="translate(389.6,571.75) scale(0.87,1)" x="0" y="0" font-size="13.6" text-anchor="end" fill="#444">50</text>
<line x1="398.2" y1="548.42" x2="395.2" y2="548.42" stroke="#222" stroke-width="1.2" />
<text transform="translate(371.2,649) rotate(-90) scale(1,1.07)" x="0" y="0" font-size="18.6" text-anchor="middle" fill="#333" >Specific capacitance (F/g)</text>
<text x="528.3" y="784.2" font-size="19.2" text-anchor="middle" fill="#333" font-weight="normal" >Current desnity (A/g)</text>
<text x="654.7" y="571.75" font-size="27" text-anchor="middle" fill="#0a0a0a" font-weight="bold" >(f)</text>
<rect x="398.2" y="548.7" width="277" height="205.7" fill="none" stroke="#2a2a2a" stroke-width="1.5"/>
</svg>
</body></html>
